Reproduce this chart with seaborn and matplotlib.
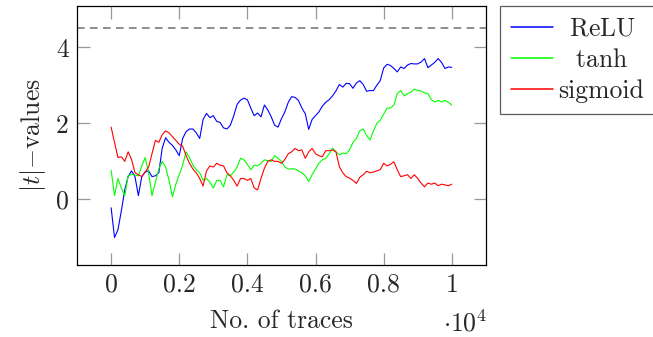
import numpy as np
import pandas as pd
import seaborn as sns
import matplotlib.pyplot as plt

# values, one every 100 traces
traces = np.arange(0, 10001, 100)

relu = [-0.22, -1.0, -0.8, -0.3, 0.25, 0.6, 0.75, 0.6, 0.1, 0.6,
        0.72, 0.75, 0.6, 0.62, 0.7, 1.35, 1.62, 1.5, 1.42, 1.3,
        1.15, 1.6, 1.78, 1.85, 1.85, 1.75, 1.6, 2.1, 2.26, 2.15,
        2.2, 2.05, 2.02, 1.88, 1.85, 1.95, 2.2, 2.5, 2.61, 2.66,
        2.62, 2.4, 2.2, 2.27, 2.17, 2.48, 2.35, 2.17, 1.95, 1.9,
        2.12, 2.3, 2.55, 2.7, 2.68, 2.6, 2.4, 2.25, 1.84, 2.1,
        2.2, 2.3, 2.45, 2.55, 2.62, 2.72, 2.85, 3.02, 2.95, 3.05,
        3.04, 2.92, 3.06, 3.12, 3.02, 2.84, 2.86, 2.86, 3.0, 3.12,
        3.45, 3.55, 3.52, 3.44, 3.35, 3.48, 3.44, 3.53, 3.57, 3.56,
        3.56, 3.61, 3.7, 3.46, 3.53, 3.6, 3.7, 3.6, 3.44, 3.48,
        3.47]

tanh = [0.77, 0.1, 0.55, 0.3, 0.1, 0.62, 0.66, 0.64, 0.62, 0.88,
        1.1, 0.7, 0.1, 0.45, 0.8, 1.0, 0.85, 0.5, 0.07, 0.4,
        0.65, 0.9, 1.25, 1.1, 0.9, 0.78, 0.7, 0.5, 0.55, 0.45,
        0.3, 0.5, 0.5, 0.33, 0.65, 0.62, 0.72, 0.85, 1.08, 1.04,
        0.92, 0.78, 0.9, 0.88, 0.95, 1.04, 1.02, 1.0, 1.15, 1.08,
        1.0, 0.85, 0.8, 0.8, 0.8, 0.75, 0.7, 0.62, 0.47, 0.65,
        0.8, 0.95, 1.04, 1.08, 1.2, 1.35, 1.25, 1.17, 1.22, 1.2,
        1.3, 1.5, 1.6, 1.8, 1.85, 1.68, 1.56, 1.8, 2.0, 2.08,
        2.24, 2.4, 2.4, 2.48, 2.78, 2.86, 2.72, 2.78, 2.82, 2.9,
        2.86, 2.85, 2.8, 2.78, 2.62, 2.56, 2.6, 2.56, 2.6, 2.55,
        2.48]

sigmoid = [1.9, 1.5, 1.1, 1.12, 1.0, 1.25, 1.05, 0.7, 0.65, 0.6,
           0.72, 0.85, 1.2, 1.55, 1.5, 1.7, 1.8, 1.75, 1.65, 1.55,
           1.45, 1.4, 1.15, 0.95, 0.8, 0.7, 0.55, 0.35, 0.75, 0.88,
           0.85, 0.95, 0.9, 0.88, 0.7, 0.62, 0.5, 0.35, 0.55, 0.55,
           0.5, 0.55, 0.3, 0.25, 0.55, 0.82, 1.0, 1.04, 1.0, 1.0,
           0.95, 1.05, 1.2, 1.25, 1.34, 1.28, 1.3, 1.08, 1.25, 1.34,
           1.2, 1.15, 1.12, 1.28, 1.28, 1.3, 1.25, 0.86, 0.7, 0.6,
           0.56, 0.5, 0.42, 0.58, 0.65, 0.74, 0.7, 0.72, 0.75, 0.78,
           0.95, 0.88, 0.92, 0.99, 0.78, 0.6, 0.62, 0.65, 0.55, 0.65,
           0.55, 0.43, 0.33, 0.43, 0.4, 0.43, 0.36, 0.4, 0.38, 0.36,
           0.4]

threshold = 4.5
labels = ['ReLU', 'tanh', 'sigmoid']
colors = ['#0000ff', '#00ff00', '#ff0000']
x_ticks = [0, 2000, 4000, 6000, 8000, 10000]
x_tick_labels = ['0', '0.2', '0.4', '0.6', '0.8', '1']
y_ticks = [0, 2, 4]

series = {'ReLU': relu, 'tanh': tanh, 'sigmoid': sigmoid}

sns.set_style('ticks')
plt.rcParams['font.family'] = ['cmr10', 'DejaVu Serif']
plt.rcParams['mathtext.fontset'] = 'cm'
plt.rcParams['axes.unicode_minus'] = False
plt.rcParams['axes.formatter.use_mathtext'] = True

fs = 18.5
fig = plt.figure(figsize=(6.53, 3.37), dpi=100)
ax = fig.add_axes([0.118, 0.214, 0.626, 0.768])

ax.axhline(threshold, color='#707070', lw=1.1, ls=(0, (5, 3.5)))
for name, col in zip(labels, colors):
    sns.lineplot(x=traces, y=series[name], color=col, linewidth=0.8,
                 label=name, legend=False, ax=ax)

ax.set_xlim(-1000, 11000)
ax.set_ylim(-1.72, 5.08)
ax.set_xticks(x_ticks)
ax.set_xticklabels(x_tick_labels)
ax.set_yticks(y_ticks)
ax.set_yticklabels([str(t) for t in y_ticks])
ax.tick_params(direction='in', length=9, width=0.9, color='#999999',
               labelsize=fs, top=True, right=True, pad=6)
for s in ax.spines.values():
    s.set_linewidth(0.9)
    s.set_color('black')

ax.set_xlabel('No. of traces', fontsize=fs, labelpad=9)
ax.set_ylabel(r'$|t|{-}$values', fontsize=fs, labelpad=6)
ax.text(1.005, -0.277, r'${\cdot}10^4$', transform=ax.transAxes,
        fontsize=fs, ha='right', va='bottom')

# legend labels are centred in the reference, pad the short ones
handles = [l for l in ax.lines if l.get_label() in labels]
shown = [r'$\enspace$ReLU', r'$\enspace\;$tanh', 'sigmoid']
leg = ax.legend(handles, shown, loc='upper left', bbox_to_anchor=(1.034, 1.0),
                borderaxespad=0, fontsize=fs, frameon=True, fancybox=False,
                handlelength=1.65, handletextpad=0.2, labelspacing=0.3,
                borderpad=0.42)
for h in leg.get_lines():
    h.set_linewidth(1.1)
leg.get_frame().set_edgecolor('#333333')
leg.get_frame().set_linewidth(0.9)

fig.savefig('out.png', dpi=100)
